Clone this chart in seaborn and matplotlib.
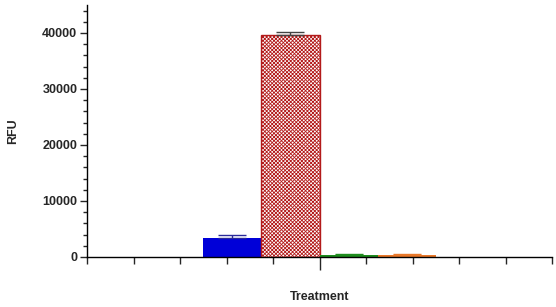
import seaborn as sns
import matplotlib.pyplot as plt
import pandas as pd
from matplotlib.ticker import MultipleLocator, FixedLocator, NullFormatter

groups = ["Group 1", "Group 2", "Group 3", "Group 4"]
rfu = [3400, 39600, 380, 320]
rfu_err = [450, 500, 180, 150]
bar_colors = ["#0000d8", "#ffffff", "#1e8c1e", "#e8782a"]
err_colors = ["#2a2a9a", "#444444", "#1e8c1e", "#e8782a"]

df = pd.DataFrame({"Treatment": [""] * len(groups), "Group": groups, "RFU": rfu})

sns.set_style("white")
plt.rcParams["font.family"] = ["Liberation Sans", "DejaVu Sans"]
plt.rcParams["hatch.linewidth"] = 0.6

fig = plt.figure(figsize=(5.56, 3.07), dpi=100)
ax = fig.add_axes([0.1565, 0.163, 0.8365, 0.821])

sns.barplot(data=df, x="Treatment", y="RFU", hue="Group", palette=bar_colors,
            width=1.0, gap=0, errorbar=None, saturation=1, legend=False, ax=ax)

for i, patch in enumerate(ax.patches[:len(groups)]):
    patch.set_linewidth(0)
    if i == 1:
        patch.set_hatch("xxxxxxxxx")
        patch.set_edgecolor("#b31a1a")
        patch.set_linewidth(1.0)
    cx = patch.get_x() + patch.get_width() / 2
    ax.errorbar(cx, patch.get_height(), yerr=[[0], [rfu_err[i]]], fmt="none",
                ecolor=err_colors[i], elinewidth=1, capsize=10, capthick=1)

ax.set_xlim(-1, 1)
ax.set_ylim(0, 45000)
ax.xaxis.set_major_locator(FixedLocator([0]))
ax.xaxis.set_minor_locator(FixedLocator([-1 + 0.2 * k for k in range(11)]))
ax.xaxis.set_major_formatter(NullFormatter())
ax.yaxis.set_major_locator(MultipleLocator(10000))
ax.yaxis.set_minor_locator(MultipleLocator(2000))

ax.tick_params(axis="x", which="major", length=9, width=1, direction="out", bottom=True)
ax.tick_params(axis="x", which="minor", length=5, width=1, direction="out", bottom=True)
ax.tick_params(axis="y", which="major", length=5, width=1, direction="out", left=True,
               labelsize=9, pad=2)
ax.tick_params(axis="y", which="minor", length=3, width=1, direction="out", left=True)
for lbl in ax.get_yticklabels():
    lbl.set_fontweight("bold")

for side in ["top", "right"]:
    ax.spines[side].set_visible(False)
for side in ["left", "bottom"]:
    ax.spines[side].set_color("black")
    ax.spines[side].set_linewidth(1)

ax.set_xlabel("Treatment", fontsize=9, fontweight="bold")
ax.set_ylabel("RFU", fontsize=9, fontweight="bold")
ax.xaxis.set_label_coords(0.5, -0.135)
ax.yaxis.set_label_coords(-0.146, 0.5)

fig.savefig("out.png", dpi=100)
